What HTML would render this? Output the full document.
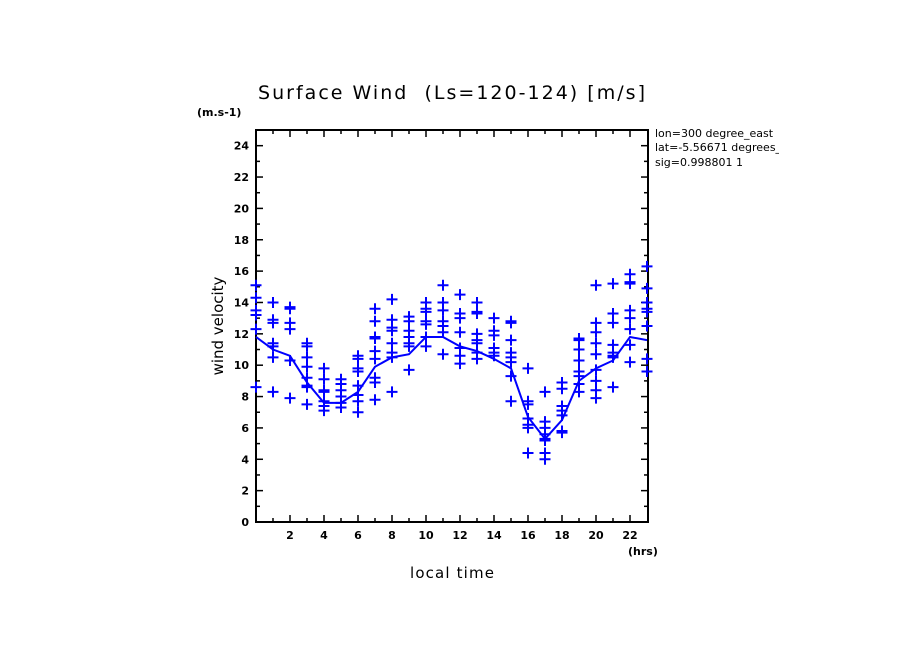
<!DOCTYPE html>
<html><head><meta charset="utf-8"><style>
body{margin:0;background:#fff;width:904px;height:654px;overflow:hidden}
text{font-family:"DejaVu Sans","Liberation Sans",sans-serif;fill:#000}
</style></head><body>
<svg id="chart" width="904" height="654" xmlns="http://www.w3.org/2000/svg">
<text x="258" y="99" font-size="19" textLength="387" lengthAdjust="spacing" style="white-space:pre">Surface Wind  (Ls=120-124) [m/s]</text>
<text x="197" y="116" font-size="11" font-weight="bold">(m.s-1)</text>
<g font-size="11">
<svg x="650" y="120" width="129" height="60"><text x="5" y="17">lon=300 degree_east</text><text x="5" y="31">lat=-5.56671 degrees_north</text><text x="5" y="46">sig=0.998801 1</text></svg>
</g>
<text x="410" y="578" font-size="15" textLength="84" lengthAdjust="spacing">local time</text>
<text transform="translate(223,326) rotate(-90)" font-size="15" text-anchor="middle">wind velocity</text>
<text x="628" y="555" font-size="11" font-weight="bold">(hrs)</text>
<g id="axes"></g><g id="marks"></g>
</svg>
<script>
const hours=[0,1,2,3,4,5,6,7,8,9,10,11,12,13,14,15,16,17,18,19,20,21,22,23];
const meanValues=[11.8,11.0,10.6,8.9,7.6,7.6,8.3,9.9,10.5,10.7,11.8,11.8,11.2,10.9,10.4,9.8,6.7,5.3,6.5,9.0,9.8,10.3,11.8,11.6];
const samples=[
[15.1,14.3,13.5,13.2,12.3,8.6],
[14.0,14.0,12.9,12.7,11.4,11.2,10.5,8.3],
[13.7,13.6,12.7,12.3,10.3,7.9],
[11.4,11.2,10.5,9.9,9.2,8.6,8.7,7.5],
[9.8,9.1,8.4,8.3,7.7,7.4,7.1],
[9.1,8.8,8.4,8.0,7.6,7.3],
[10.6,10.4,9.8,9.6,8.7,8.1,7.7,7.0],
[13.6,12.8,11.8,11.7,10.9,10.4,9.2,8.9,7.8],
[14.2,12.9,12.4,12.2,11.4,10.8,10.5,8.3],
[13.1,12.8,12.2,11.8,11.4,11.2,9.7],
[14.0,13.6,13.4,12.8,12.6,11.8,11.2],
[15.1,14.0,13.5,12.8,12.5,12.1,10.7],
[14.5,13.3,13.0,12.1,11.1,10.6,10.1],
[14.0,13.4,13.3,12.0,11.6,11.4,10.8,10.4],
[13.0,12.2,11.9,11.1,10.8,10.6],
[12.8,12.7,11.6,10.8,10.5,10.2,9.3,7.7],
[9.8,7.7,7.5,6.6,6.2,6.0,4.4],
[8.3,6.4,6.0,5.6,5.3,5.2,4.4,4.0],
[8.9,8.5,7.4,7.1,6.8,5.8,5.7],
[11.7,11.6,11.0,10.3,9.6,9.3,8.8,8.3],
[15.1,12.7,12.1,11.4,10.7,9.7,9.0,8.4,7.9],
[15.2,13.3,12.7,11.3,10.8,10.6,10.5,8.6],
[15.8,15.3,15.2,13.5,13.0,12.3,11.3,10.2],
[16.3,14.9,14.0,13.6,13.4,12.5,10.4,9.6]];
const yTicks=[0,2,4,6,8,10,12,14,16,18,20,22,24];
const xTicks=[2,4,6,8,10,12,14,16,18,20,22];
const L=256,R=648,T=130,B=522;
const X=h=>L+h*17;
const Y=v=>B-(v/25)*(B-T);
const NS="http://www.w3.org/2000/svg";
function mk(p,t,a){const e=document.createElementNS(NS,t);for(const k in a)e.setAttribute(k,a[k]);p.appendChild(e);return e;}
const ax=document.getElementById('axes'),mg=document.getElementById('marks');
const frame=mk(ax,'rect',{x:L,y:T,width:R-L,height:B-T,fill:'none',stroke:'#000','stroke-width':2});


for(let v=0;v<=25;v++){const big=v%2===0,len=big?7:4;
 mk(ax,'line',{x1:L,x2:L+len,y1:Y(v),y2:Y(v),stroke:'#000','stroke-width':1.5});
 mk(ax,'line',{x1:R,x2:R-len,y1:Y(v),y2:Y(v),stroke:'#000','stroke-width':1.5});}
yTicks.forEach(v=>{const t=mk(ax,'text',{x:L-7,y:Y(v)+4,'text-anchor':'end','font-size':11,'font-weight':'bold'});t.textContent=v;

});
for(let h=1;h<=22;h++){const big=h%2===0,len=big?7:4;
 mk(ax,'line',{x1:X(h),x2:X(h),y1:B,y2:B-len,stroke:'#000','stroke-width':1.5});
 mk(ax,'line',{x1:X(h),x2:X(h),y1:T,y2:T+len,stroke:'#000','stroke-width':1.5});}
xTicks.forEach(h=>{const t=mk(ax,'text',{x:X(h),y:B+17,'text-anchor':'middle','font-size':11,'font-weight':'bold'});t.textContent=h;

});
const pl=mk(mg,'polyline',{points:hours.map((h,i)=>X(h)+','+Y(meanValues[i])).join(' '),fill:'none',stroke:'#0000ff','stroke-width':2});


samples.forEach((arr,i)=>arr.forEach(v=>{const x=X(hours[i]),y=Y(v);
 const p=mk(mg,'path',{d:`M${x-5.5},${y}H${x+5.5}M${x},${y-5.5}V${y+5.5}`,stroke:'#0000ff','stroke-width':2});
 
 }));
</script>
</body></html>
